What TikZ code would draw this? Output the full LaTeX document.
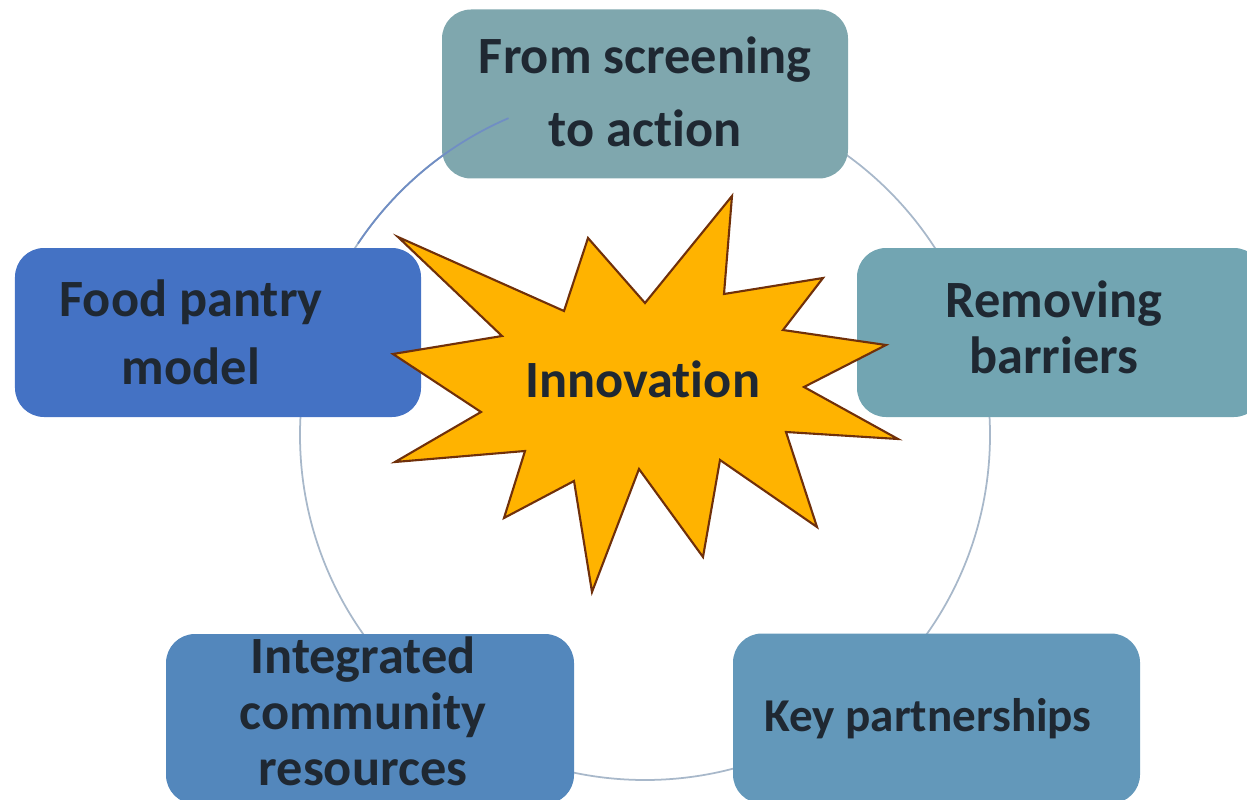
\documentclass[tikz,border=0pt]{standalone}
\usepackage{fontspec}
\setmainfont{Carlito}[Ligatures=NoCommon]

\definecolor{screeningfill}{RGB}{127,167,174}
\definecolor{pantryfill}{RGB}{68,114,196}
\definecolor{barriersfill}{RGB}{114,165,178}
\definecolor{communityfill}{RGB}{83,135,188}
\definecolor{partnerfill}{RGB}{99,152,186}
\definecolor{ringline}{RGB}{168,184,202}
\definecolor{ringfront}{RGB}{112,142,196}
\definecolor{starfill}{RGB}{255,179,0}
\definecolor{starline}{RGB}{112,48,10}
\definecolor{ink}{RGB}{31,40,50}

\tikzset{
  block/.style={rectangle, rounded corners=0.29cm, minimum width=4.06cm,
    minimum height=1.69cm, inner sep=0pt},
  blocktext/.style={text=ink, align=center, inner sep=0pt,
    font=\fontsize{14.9}{#1}\selectfont\bfseries},
  blocktext/.default=18,
  ring/.style={draw=ringline, line width=0.5pt},
  burst/.style={fill=starfill, draw=starline, line width=0.6pt, line join=miter}
}

\begin{document}
\begin{tikzpicture}
  \path[use as bounding box, clip] (0,0) rectangle (12.47,7.99);

  % the ring behind the blocks
  \coordinate (hub) at (6.45,3.64);
  \draw[ring] (hub) circle[radius=3.45];

  % We start by placing the blocks
  \node[block, fill=screeningfill] (screening) at (6.45,7.05) {};
  \node[block, fill=pantryfill]    (pantry)    at (2.18,4.665) {};
  \node[block, fill=barriersfill]  (barriers)  at (10.60,4.665) {};
  \node[block, fill=communityfill, minimum width=4.08cm, minimum height=1.70cm]
    (community) at (3.70,0.80) {};
  \node[block, fill=partnerfill, minimum width=4.07cm, minimum height=1.70cm]
    (partner) at (9.365,0.805) {};

  % piece of the ring running over the top block
  \coordinate (arcstart) at ([shift={(146.3:3.45)}]hub);
  \draw[ring, draw=ringfront] (arcstart) arc[start angle=146.3, end angle=113.3, radius=3.45];

  % the burst in the middle
  \draw[burst] (7.32,6.03) -- (7.24,5.05) -- (8.23,5.21) -- (7.83,4.69)
    -- (8.86,4.54) -- (8.04,4.12) -- (8.98,3.60) -- (7.86,3.67)
    -- (8.17,2.72) -- (7.20,3.39) -- (7.03,2.42) -- (6.39,3.30)
    -- (5.92,2.07) -- (5.74,3.18) -- (5.04,2.81) -- (5.25,3.48)
    -- (3.95,3.37) -- (4.81,3.87) -- (3.93,4.45) -- (5.02,4.63)
    -- (3.98,5.62) -- (5.64,4.88) -- (5.88,5.61) -- (6.45,4.96) -- cycle;
  \node[blocktext] (innovation) at (6.425,4.20) {Innovation};

  % texts of the blocks
  \node[blocktext=20.8] (screeningtxt) at (6.45,7.075) {From screening\\to action};
  \node[blocktext=19.3] (pantrytxt)    at (1.91,4.67)  {Food pantry\\model};
  \node[blocktext=15.9] (barrierstxt)  at (10.54,4.72) {Removing\\barriers};
  \node[blocktext=15.9] (communitytxt) at (3.63,0.875) {Integrated\\community\\resources};
  \node[text=ink, inner sep=0pt, font=\fontsize{13.4}{16}\selectfont\bfseries]
    (partnertxt) at (9.28,0.80) {Key partnerships};
\end{tikzpicture}
\end{document}
